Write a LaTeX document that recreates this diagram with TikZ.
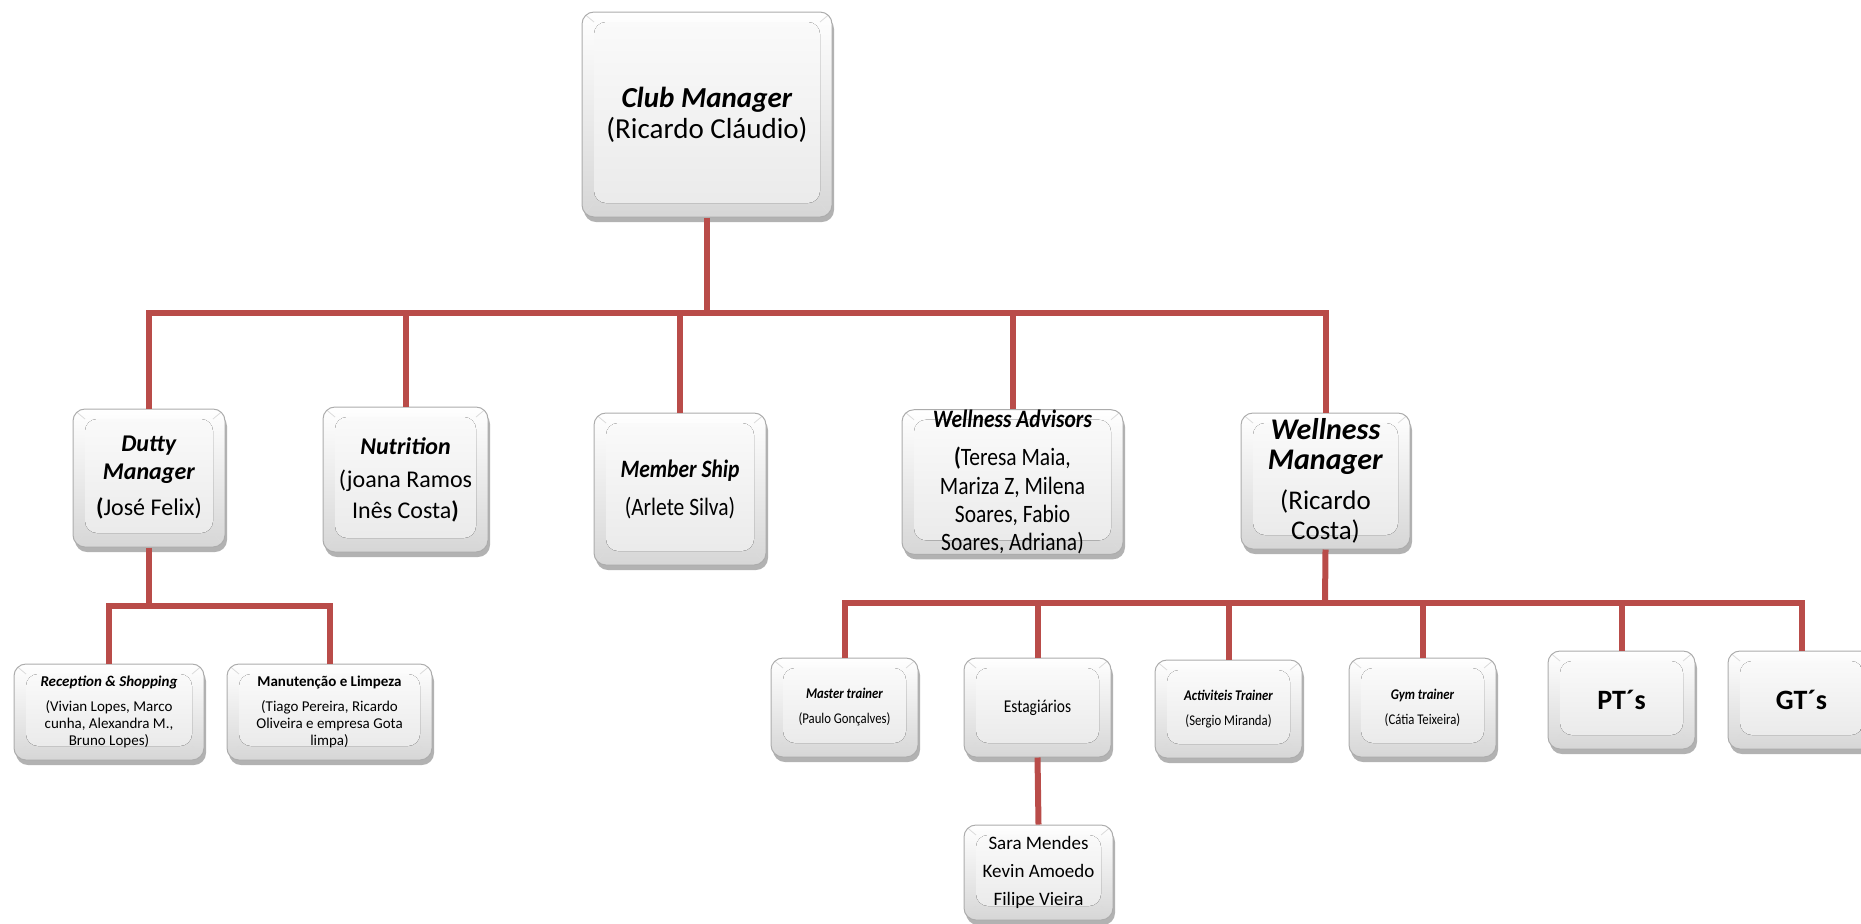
\documentclass[tikz,border=0pt]{standalone}
\usepackage{fontspec}
\setmainfont{Carlito}
\newfontfamily\condfont[FakeStretch=0.86]{Carlito}
\usetikzlibrary{shadows,calc}
\definecolor{conn}{RGB}{185,76,73}
\tikzset{
  keybox/.style={draw=gray!65, line width=0.5pt, rounded corners=6pt,
    top color=white, bottom color=gray!32, inner sep=0pt, align=center,
    drop shadow={shadow xshift=1pt, shadow yshift=-2.5pt, opacity=0.3, fill=black},
    path picture={
      \coordinate (ppsw) at (path picture bounding box.south west);
      \coordinate (ppne) at (path picture bounding box.north east);
      \coordinate (ppnw) at (path picture bounding box.north west);
      \coordinate (ppse) at (path picture bounding box.south east);
      \fill[top color=gray!4, bottom color=gray!16] ($(ppsw)+(6pt,7pt)$) rectangle ($(ppne)+(-6pt,-5pt)$);
      \draw[gray!28, line width=0.4pt] (ppsw) -- ($(ppsw)+(6pt,7pt)$) (ppse) -- ($(ppse)+(-6pt,7pt)$)
        (ppnw) -- ($(ppnw)+(6pt,-5pt)$) (ppne) -- ($(ppne)+(-6pt,-5pt)$);
    }},
  connline/.style={draw=conn, line width=3pt},
}
\begin{document}
\begin{tikzpicture}[x=0.5pt,y=-0.5pt]
\useasboundingbox (0,0) rectangle (1861,923);
% level 1
\node[keybox, minimum width=125pt, minimum height=102.5pt, font=\fontsize{14.5}{15.5}\selectfont] (top) at (707,114.5)
  {\textbf{\textit{Club Manager}}\\(Ricardo Cláudio)};
% level 2
\node[keybox, minimum width=76pt, minimum height=69pt, font=\fontsize{12}{14}\selectfont] (dutty) at (149,478)
  {\textbf{\textit{Dutty}}\\\textbf{\textit{Manager}}\\[4pt]\textbf{(}José Felix)};
\node[keybox, minimum width=82.5pt, minimum height=72.5pt, font=\fontsize{12}{15.5}\selectfont] (nutr) at (405.5,479.5)
  {\textbf{\textit{Nutrition}}\\[1pt](joana Ramos\\Inês Costa\textbf{)}};
\node[keybox, minimum width=86pt, minimum height=76pt, font=\fontsize{12.5}{14}\selectfont\condfont] (member) at (680,489)
  {\textbf{\textit{Member Ship}}\\[5pt](Arlete Silva)};
\node[keybox, minimum width=110.5pt, minimum height=72pt, font=\fontsize{12.5}{14.2}\selectfont\condfont] (advis) at (1012.5,482)
  {\textbf{\textit{Wellness Advisors}}\\[5pt]\textbf{(}Teresa Maia,\\Mariza Z, Milena\\Soares, Fabio\\Soares, Adriana)};
\node[keybox, minimum width=84.5pt, minimum height=68pt, font=\fontsize{13.5}{15}\selectfont] (wmgr) at (1325.5,481)
  {{\fontsize{15}{17}\selectfont\textbf{\textit{Wellness}}}\\{\fontsize{15}{17}\selectfont\textbf{\textit{Manager}}}\\[5pt](Ricardo\\Costa)};
% level 3 left
\node[keybox, minimum width=95pt, minimum height=48pt, font=\fontsize{7.5}{8.4}\selectfont] (recep) at (109,712)
  {\textbf{\textit{Reception \& Shopping}}\\[4pt](Vivian Lopes, Marco\\cunha, Alexandra M.,\\Bruno Lopes)};
\node[keybox, minimum width=102.5pt, minimum height=48pt, font=\fontsize{7.5}{8.4}\selectfont] (manut) at (329.5,712)
  {\textbf{Manutenção e Limpeza}\\[4pt](Tiago Pereira, Ricardo\\Oliveira e empresa Gota\\limpa)};
% level 3 right
\node[keybox, minimum width=73.5pt, minimum height=49.5pt, font=\fontsize{7.4}{8.5}\selectfont\condfont] (master) at (844.5,707.5)
  {\textbf{\textit{Master trainer}}\\[4pt](Paulo Gonçalves)};
\node[keybox, minimum width=73.5pt, minimum height=49.5pt, font=\fontsize{9}{10}\selectfont\condfont] (estag) at (1037.5,707.5)
  {Estagiários};
\node[keybox, minimum width=73.5pt, minimum height=49pt, font=\fontsize{7.4}{8.5}\selectfont\condfont] (activ) at (1228.5,709)
  {\textbf{\textit{Activiteis Trainer}}\\[4pt](Sergio Miranda)};
\node[keybox, minimum width=73.5pt, minimum height=49.5pt, font=\fontsize{7.4}{8.5}\selectfont\condfont] (gym) at (1422.5,707.5)
  {\textbf{\textit{Gym trainer}}\\[4pt](Cátia Teixeira)};
\node[keybox, minimum width=73.5pt, minimum height=49pt, font=\fontsize{14}{15}\selectfont\bfseries] (pts) at (1621.5,700)
  {PT´s};
\node[keybox, minimum width=73.5pt, minimum height=49pt, font=\fontsize{14}{15}\selectfont\bfseries] (gts) at (1801.5,700)
  {GT´s};
% level 4
\node[keybox, minimum width=74.5pt, minimum height=47.5pt, font=\fontsize{9.5}{14.2}\selectfont] (sara) at (1038.5,872.5)
  {Sara Mendes\\Kevin Amoedo\\Filipe Vieira};
% connector junctions
\coordinate (bar1) at (707,313);
\coordinate (bar2) at (149,606);
\coordinate (bar3) at (1325,603);
\draw[connline] (top.south) -- (bar1);
\draw[connline] (dutty.north) |- (bar1);
\draw[connline] (nutr.north) |- (bar1);
\draw[connline] (member.north) |- (bar1);
\draw[connline] (advis.north) |- (bar1);
\draw[connline] (wmgr.north) |- (bar1);
\draw[connline] (dutty.south) -- (bar2);
\draw[connline] (recep.north) |- (bar2);
\draw[connline] (manut.north) |- (bar2);
\draw[connline] (wmgr.south) -- (bar3);
\draw[connline] (master.north) |- (bar3);
\draw[connline] (estag.north) |- (bar3);
\draw[connline] (activ.north) |- (bar3);
\draw[connline] (gym.north) |- (bar3);
\draw[connline] (pts.north) |- (bar3);
\draw[connline] (gts.north) |- (bar3);
\draw[connline] (estag.south) -- (sara.north);
\end{tikzpicture}
\end{document}
